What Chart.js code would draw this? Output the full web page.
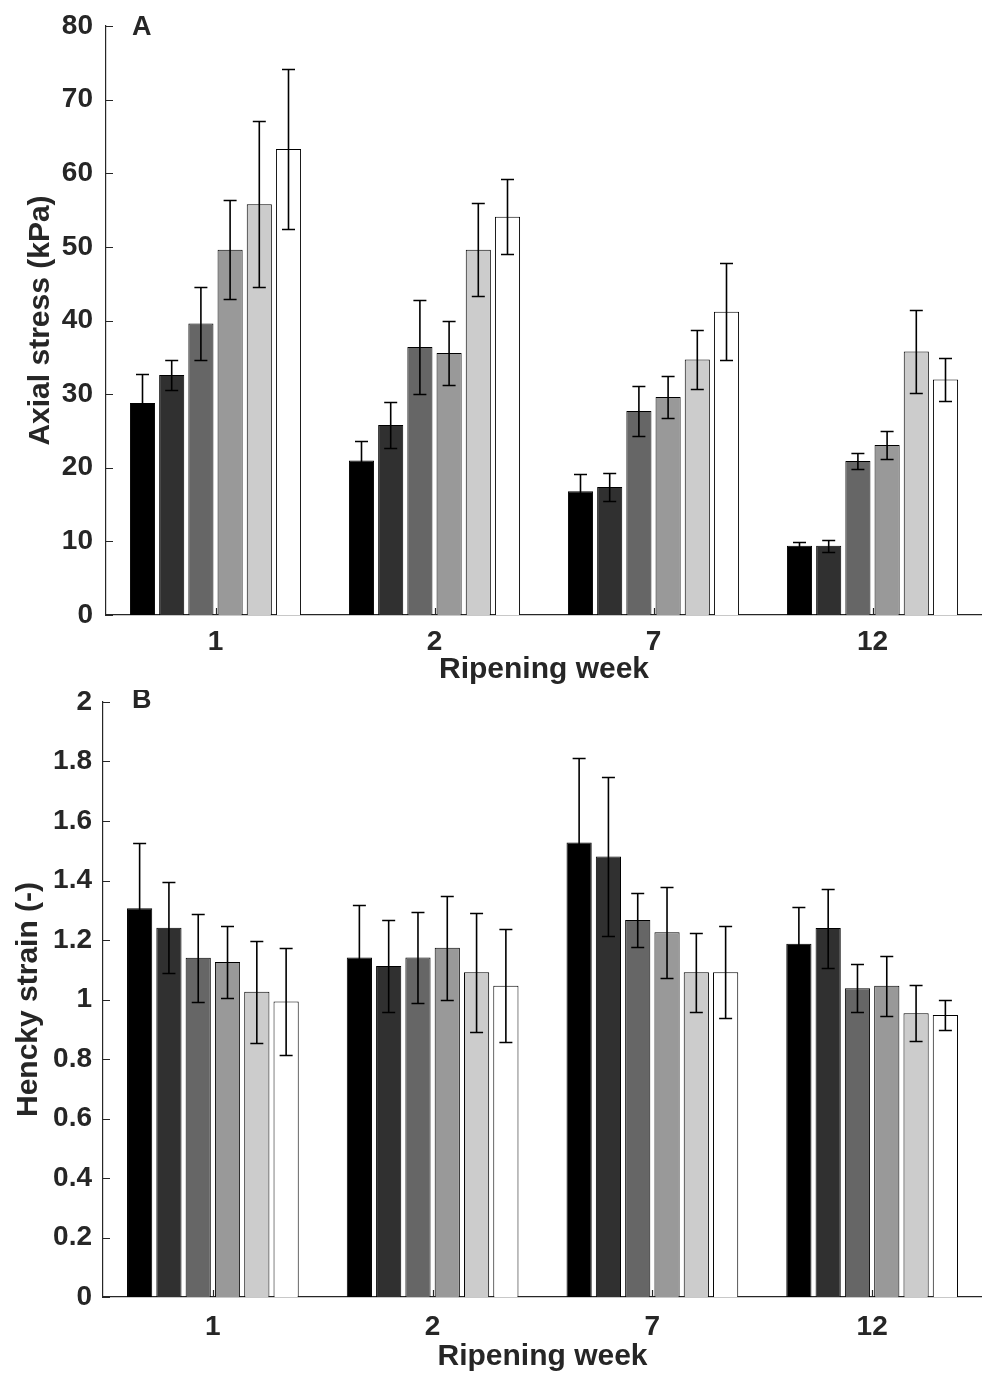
<!DOCTYPE html>
<html><head><meta charset="utf-8">
<script src="https://cdn.jsdelivr.net/npm/chart.js@4.4.1/dist/chart.umd.min.js"></script>
<style>html,body{margin:0;padding:0;background:#fff;overflow:hidden}canvas{display:block}</style>
</head><body>
<canvas id="cA" width="982" height="690"></canvas>
<canvas id="cB" width="982" height="690"></canvas>
<script>
// ---- data ----
const weeks = ['1', '2', '7', '12'];
const seriesNames = ['Series 1', 'Series 2', 'Series 3', 'Series 4', 'Series 5', 'Series 6'];

const stressS1 = [28.8, 21.0, 16.8, 9.4];
const stressS2 = [32.6, 25.8, 17.4, 9.4];
const stressS3 = [39.6, 36.4, 27.7, 20.9];
const stressS4 = [49.6, 35.6, 29.6, 23.1];
const stressS5 = [55.8, 49.6, 34.7, 35.8];
const stressS6 = [63.3, 54.1, 41.2, 32.0];

const stressErrS1 = [4.0, 2.7, 2.3, 0.5];
const stressErrS2 = [2.1, 3.1, 1.9, 0.8];
const stressErrS3 = [5.0, 6.4, 3.4, 1.1];
const stressErrS4 = [6.7, 4.4, 2.9, 1.9];
const stressErrS5 = [11.3, 6.3, 4.0, 5.6];
const stressErrS6 = [10.9, 5.1, 6.6, 2.9];

const strainS1 = [1.307, 1.141, 1.528, 1.187];
const strainS2 = [1.241, 1.113, 1.481, 1.240];
const strainS3 = [1.140, 1.141, 1.267, 1.038];
const strainS4 = [1.126, 1.174, 1.226, 1.046];
const strainS5 = [1.026, 1.092, 1.092, 0.954];
const strainS6 = [0.993, 1.046, 1.092, 0.948];

const strainErrS1 = [0.220, 0.177, 0.284, 0.125];
const strainErrS2 = [0.153, 0.154, 0.267, 0.133];
const strainErrS3 = [0.149, 0.153, 0.090, 0.080];
const strainErrS4 = [0.120, 0.174, 0.153, 0.100];
const strainErrS5 = [0.172, 0.200, 0.133, 0.094];
const strainErrS6 = [0.180, 0.190, 0.155, 0.052];

const stressTicks = [0, 10, 20, 30, 40, 50, 60, 70, 80];
const strainTicks = [0, 0.2, 0.4, 0.6, 0.8, 1, 1.2, 1.4, 1.6, 1.8, 2];

// ---- styles ----
const barColors = ['#000000', '#303030', '#666666', '#999999', '#cccccc', '#ffffff'];
const FONT = "'Liberation Sans', Arial, Helvetica, sans-serif";
const TXT = '#262626';

const errorBarPlugin = {
  id: 'errbars',
  afterDatasetsDraw(chart, args, opts) {
    const ctx = chart.ctx, y = chart.scales.y;
    ctx.save();
    ctx.strokeStyle = '#000';
    ctx.lineWidth = 1.6;
    chart.data.datasets.forEach((ds, i) => {
      const meta = chart.getDatasetMeta(i);
      meta.data.forEach((bar, j) => {
        const v = ds.data[j], e = opts.errors[i][j];
        const yt = Math.round(y.getPixelForValue(v + e)) + 0.5;
        const yb = Math.round(y.getPixelForValue(v - e)) + 0.5;
        const x = bar.x;
        ctx.beginPath();
        ctx.moveTo(x, yt); ctx.lineTo(x, yb);
        ctx.moveTo(x - 6.5, yt); ctx.lineTo(x + 6.5, yt);
        ctx.moveTo(x - 6.5, yb); ctx.lineTo(x + 6.5, yb);
        ctx.stroke();
      });
    });
    ctx.restore();
  },
  afterDraw(chart, args, opts) {
    const ctx = chart.ctx, ca = chart.chartArea;
    const xs = chart.scales.x, ys = chart.scales.y;
    ctx.save();
    ctx.strokeStyle = TXT;
    ctx.lineWidth = 1.2;
    ctx.beginPath();
    ys.ticks.forEach(t => {
      const py = Math.round(ys.getPixelForValue(t.value)) + 0.5;
      ctx.moveTo(ca.left, py); ctx.lineTo(ca.left + 7, py);
    });
    xs.ticks.forEach((t, i) => {
      const px = Math.round(xs.getPixelForTick(i)) + 0.5;
      ctx.moveTo(px, ca.bottom); ctx.lineTo(px, ca.bottom - 7);
    });
    ctx.stroke();
    ctx.fillStyle = TXT;
    ctx.font = 'bold 27px ' + FONT;
    ctx.textBaseline = 'alphabetic';
    ctx.textAlign = 'left';
    ctx.fillText(opts.label, opts.labelX, opts.labelY);
    ctx.restore();
  }
};

function makeDatasets(means) {
  return means.map((d, i) => ({
    label: seriesNames[i],
    data: d,
    backgroundColor: barColors[i],
    borderColor: '#000',
    borderWidth: 1,
    categoryPercentage: 0.8,
    barPercentage: 0.86
  }));
}

function makeChart(id, cfg) {
  return new Chart(document.getElementById(id), {
    type: 'bar',
    data: { labels: weeks, datasets: makeDatasets(cfg.means) },
    options: {
      responsive: false,
      animation: false,
      devicePixelRatio: 1,
      layout: { padding: { top: cfg.padTop, bottom: cfg.padBottom, left: 0, right: 0 } },
      plugins: {
        legend: { display: false },
        tooltip: { enabled: false },
        errbars: { errors: cfg.errors, label: cfg.label, labelX: 132, labelY: cfg.labelY }
      },
      scales: {
        x: {
          grid: { display: false, drawTicks: false },
          border: { display: true, color: TXT, width: 1.2 },
          ticks: { color: TXT, font: { family: FONT, size: 28, weight: 'bold' }, padding: cfg.xTickPad, maxRotation: 0 },
          title: { display: true, text: 'Ripening week', color: TXT, font: { family: FONT, size: 30, weight: 'bold' }, padding: 0 },
          afterFit(s) { s.height = cfg.xHeight; s.paddingLeft = 0; s.paddingRight = 0; }
        },
        y: {
          min: cfg.ticks[0], max: cfg.ticks[cfg.ticks.length - 1],
          grid: { display: false, drawTicks: false },
          border: { display: true, color: TXT, width: 1.2 },
          afterBuildTicks(s) { s.ticks = cfg.ticks.map(v => ({ value: v })); },
          ticks: {
            color: TXT, font: { family: FONT, size: 28, weight: 'bold' }, padding: cfg.yTickPad,
            callback: v => String(v)
          },
          title: { display: true, text: cfg.yTitle, color: TXT, font: { family: FONT, size: 30, weight: 'bold' }, padding: { top: cfg.yTitlePad, bottom: 0 } },
          afterFit(s) { s.width = cfg.yWidth; s.paddingTop = 0; s.paddingBottom = 0; }
        }
      }
    },
    plugins: [errorBarPlugin]
  });
}

makeChart('cA', {
  means: [stressS1, stressS2, stressS3, stressS4, stressS5, stressS6],
  errors: [stressErrS1, stressErrS2, stressErrS3, stressErrS4, stressErrS5, stressErrS6],
  ticks: stressTicks,
  yTitle: 'Axial stress (kPa)',
  label: 'A', labelY: 35,
  padTop: 26, padBottom: 2, xHeight: 73, xTickPad: 10,
  yWidth: 106, yTickPad: 13, yTitlePad: 23
});

makeChart('cB', {
  means: [strainS1, strainS2, strainS3, strainS4, strainS5, strainS6],
  errors: [strainErrS1, strainErrS2, strainErrS3, strainErrS4, strainErrS5, strainErrS6],
  ticks: strainTicks,
  yTitle: 'Hencky strain (-)',
  label: 'B', labelY: 18,
  padTop: 12, padBottom: 5, xHeight: 78, xTickPad: 13,
  yWidth: 103, yTickPad: 11, yTitlePad: 11
});
</script>
</body></html>
